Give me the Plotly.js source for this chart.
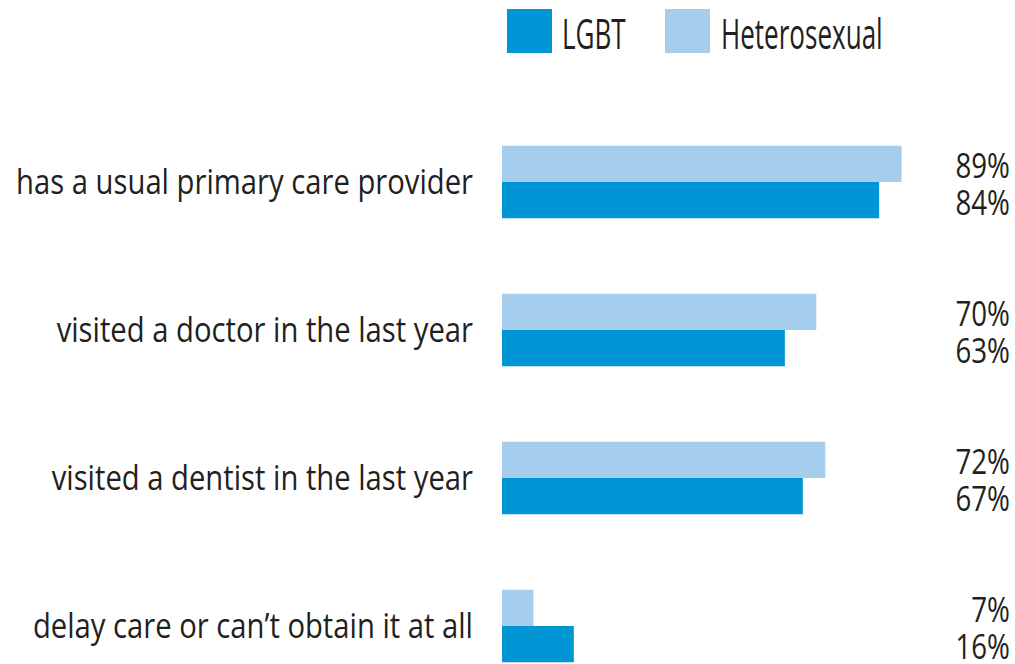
<!DOCTYPE html>
<html>
<head>
<meta charset="utf-8">
<script src="https://cdn.plot.ly/plotly-3.0.1.min.js"></script>
<style>
  html, body { margin: 0; padding: 0; background: #ffffff; }
  #chart { width: 1015px; height: 664px; }
</style>
</head>
<body>
<div id="chart"></div>
<script>
// ---- data ----
const categories = [
  "has a usual primary care provider",
  "visited a doctor in the last year",
  "visited a dentist in the last year",
  "delay care or can\u2019t obtain it at all"
];
const seriesNames = ["LGBT", "Heterosexual"];
const lgbtValues = [84, 63, 67, 16];
const heteroValues = [89, 70, 72, 7];
const colorLGBT = "#0096d6";
const colorHetero = "#a6cdec";

// ---- layout geometry / styling ----
const W = 1015, H = 664;
const plotLeft = 502, plotRight = 951, plotTop = 108, plotBottom = 664;
const bargap = 0.51;
const FONT = '"Open Sans", "Noto Sans", "DejaVu Sans", sans-serif';
const textColor = "#231f20";
// horizontal condensing of text (the original uses a condensed typeface)
const SCALE_CAT = 0.86, SCALE_VAL = 0.79, SCALE_LEG = 0.62;

function px2paperX(px) { return (px - plotLeft) / (plotRight - plotLeft); }
function px2paperY(py) { return (plotBottom - py) / (plotBottom - plotTop); }

const traces = [
  {
    type: "bar", orientation: "h", name: seriesNames[1],
    y: categories, x: heteroValues,
    marker: { color: colorHetero }, hoverinfo: "skip"
  },
  {
    type: "bar", orientation: "h", name: seriesNames[0],
    y: categories, x: lgbtValues,
    marker: { color: colorLGBT }, hoverinfo: "skip"
  }
];

const off = (1 - bargap) / 4;
const annotations = [];
const annScale = [];   // [scale, anchor side]
categories.forEach((c, i) => {
  annotations.push({
    xref: "paper", yref: "y", x: px2paperX(1011), y: i - off,
    text: heteroValues[i] + "%", showarrow: false, xanchor: "right", yanchor: "middle",
    yshift: -1, borderpad: 0, font: { family: FONT, size: 35, color: textColor }
  });
  annScale.push([SCALE_VAL, "right"]);
  annotations.push({
    xref: "paper", yref: "y", x: px2paperX(1011), y: i + off,
    text: lgbtValues[i] + "%", showarrow: false, xanchor: "right", yanchor: "middle",
    yshift: -1, borderpad: 0, font: { family: FONT, size: 35, color: textColor }
  });
  annScale.push([SCALE_VAL, "right"]);
});

// custom legend (large swatches)
const legendItems = [
  { name: seriesNames[0], color: colorLGBT, x0: 507, x1: 552, tx: 561 },
  { name: seriesNames[1], color: colorHetero, x0: 665, x1: 710, tx: 720 }
];
const shapes = [];
legendItems.forEach(it => {
  shapes.push({
    type: "rect", xref: "paper", yref: "paper",
    x0: px2paperX(it.x0), x1: px2paperX(it.x1),
    y0: px2paperY(53), y1: px2paperY(9),
    fillcolor: it.color, line: { width: 0 }
  });
  annotations.push({
    xref: "paper", yref: "paper", x: px2paperX(it.tx), y: px2paperY(33),
    text: it.name, showarrow: false, xanchor: "left", yanchor: "middle",
    borderpad: 0, font: { family: FONT, size: 42, color: textColor }
  });
  annScale.push([SCALE_LEG, "left"]);
});

const layout = {
  width: W, height: H,
  margin: { l: plotLeft, r: W - plotRight, t: plotTop, b: H - plotBottom, pad: 0 },
  paper_bgcolor: "#ffffff", plot_bgcolor: "#ffffff",
  barmode: "group", bargap: bargap, bargroupgap: 0,
  showlegend: false,
  xaxis: {
    range: [0, 100], showgrid: false, zeroline: false, showline: false,
    showticklabels: false, ticks: "", fixedrange: true
  },
  yaxis: {
    type: "category", categoryorder: "array", categoryarray: categories,
    range: [3.257, -0.5], showgrid: false, zeroline: false, showline: false,
    ticks: "", ticklabelstandoff: 28,
    tickfont: { family: FONT, size: 34, color: textColor }, fixedrange: true
  },
  annotations: annotations,
  shapes: shapes
};

function condense(el, s, side) {
  const bb = el.getBBox();
  const ax = side === "left" ? bb.x : bb.x + bb.width;
  const t = el.getAttribute("transform") || "";
  el.setAttribute("transform",
    (t + " translate(" + ax + ",0) scale(" + s + ",1) translate(" + (-ax) + ",0)").trim());
}

Plotly.newPlot("chart", traces, layout, { displayModeBar: false, staticPlot: true })
  .then(gd => {
    gd.querySelectorAll(".yaxislayer-above .ytick text").forEach(el => condense(el, SCALE_CAT, "right"));
    annScale.forEach((sc, k) => {
      const g = gd.querySelector('.annotation[data-index="' + k + '"] text.annotation-text');
      if (g) condense(g, sc[0], sc[1]);
    });
  });
</script>
</body>
</html>
